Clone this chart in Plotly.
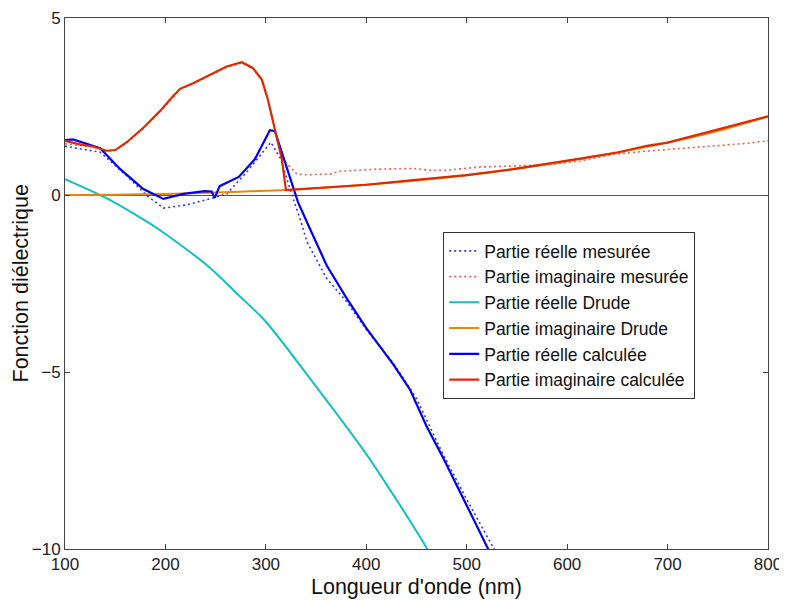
import plotly.graph_objects as go

# Partie réelle mesurée
x_re_mes = [100, 135, 162, 182, 198, 221, 244, 261, 281, 305, 315, 325, 335, 341, 360.6, 370.5, 380, 400, 427, 450, 476, 500, 526, 535]
y_re_mes = [1.38, 1.21, 0.53, -0.03, -0.37, -0.28, -0.11, 0.03, 0.65, 1.49, 1.01, 0.08, -0.76, -1.33, -2.36, -2.69, -3.0, -3.8, -4.75, -5.75, -7.3, -8.6, -9.9, -10.4]

# Partie imaginaire mesurée
x_im_mes = [100, 115, 128, 141.5, 150, 161.5, 178, 194.6, 204.6, 214.5, 227.5, 244.4, 261, 276, 287, 296, 302, 309, 316, 324, 331, 340, 351, 364, 374, 380.5, 410, 446.6, 463, 480, 513, 546, 580, 613, 646, 679, 712.5, 745.5, 779, 800]
y_im_mes = [1.45, 1.40, 1.35, 1.24, 1.26, 1.47, 1.88, 2.35, 2.68, 2.98, 3.14, 3.38, 3.61, 3.73, 3.57, 3.24, 2.7, 1.85, 1.05, 0.79, 0.59, 0.57, 0.57, 0.59, 0.68, 0.68, 0.73, 0.75, 0.70, 0.70, 0.79, 0.82, 0.85, 0.96, 1.15, 1.24, 1.31, 1.39, 1.46, 1.53]

# Partie réelle Drude
x_re_dru = [100, 135, 150, 184.7, 200, 244.5, 271, 300, 347, 400, 458.6, 470]
y_re_dru = [0.45, 0.0, -0.22, -0.81, -1.10, -2.06, -2.78, -3.58, -5.30, -7.32, -9.9, -10.5]

# Partie imaginaire Drude
x_im_dru = [100, 150, 200, 250, 300, 320, 350, 400, 450, 500, 550, 600, 650, 700, 750, 800]
y_im_dru = [0.0, 0.01, 0.03, 0.07, 0.12, 0.14, 0.19, 0.29, 0.41, 0.56, 0.74, 0.96, 1.20, 1.48, 1.81, 2.22]

# Partie réelle calculée
x_re_cal = [100, 108, 135, 155, 178, 198, 218, 239, 246, 249, 254, 273, 289, 304, 309, 322, 332, 344, 360.6, 380.5, 400, 427, 443.6, 460, 476.5, 500, 520, 530]
y_re_cal = [1.55, 1.57, 1.32, 0.73, 0.17, -0.11, 0.03, 0.11, 0.10, -0.08, 0.25, 0.51, 1.01, 1.83, 1.80, 0.65, -0.2, -0.96, -1.99, -2.92, -3.76, -4.79, -5.5, -6.53, -7.42, -8.77, -9.9, -10.5]

# Partie imaginaire calculée
x_im_cal = [100, 115, 128, 141.5, 150, 161.5, 178, 194.6, 204.6, 214.5, 227.5, 244.4, 261, 276, 287, 296, 302, 309, 316, 320, 350, 400, 446.6, 500, 546, 600, 613, 650, 679.4, 700, 745.5, 800]
y_im_cal = [1.53, 1.43, 1.37, 1.25, 1.27, 1.49, 1.90, 2.37, 2.70, 3.00, 3.16, 3.40, 3.63, 3.75, 3.59, 3.26, 2.70, 1.85, 1.00, 0.14, 0.19, 0.29, 0.42, 0.56, 0.73, 0.96, 1.03, 1.20, 1.39, 1.48, 1.81, 2.22]

FONT = "Liberation Sans, Arial"

fig = go.Figure()
fig.add_trace(go.Scatter(x=x_re_mes, y=y_re_mes, mode="lines", name="Partie réelle mesurée",
                         line=dict(color="#3535FF", width=1.6, dash="2px,3px")))
fig.add_trace(go.Scatter(x=x_im_mes, y=y_im_mes, mode="lines", name="Partie imaginaire mesurée",
                         line=dict(color="#EE6048", width=1.6, dash="2px,3px")))
fig.add_trace(go.Scatter(x=x_re_dru, y=y_re_dru, mode="lines", name="Partie réelle Drude",
                         line=dict(color="#14C0C0", width=2, shape="spline", smoothing=0.8)))
fig.add_trace(go.Scatter(x=x_im_dru, y=y_im_dru, mode="lines", name="Partie imaginaire Drude",
                         line=dict(color="#E8870E", width=2, shape="spline", smoothing=0.8)))
fig.add_trace(go.Scatter(x=x_re_cal, y=y_re_cal, mode="lines", name="Partie réelle calculée",
                         line=dict(color="#0000F0", width=2.2)))
fig.add_trace(go.Scatter(x=x_im_cal, y=y_im_cal, mode="lines", name="Partie imaginaire calculée",
                         line=dict(color="#DD2A00", width=2.2)))

axis_common = dict(showline=True, linecolor="#444", linewidth=1, mirror="ticks",
                   ticks="inside", ticklen=5, tickcolor="#444", showgrid=False,
                   automargin=False,
                   tickfont=dict(family=FONT, size=17, color="#222"))

fig.update_xaxes(range=[100, 800], tickvals=[100, 200, 300, 400, 500, 600, 700, 800],
                 zeroline=False, **axis_common)
fig.update_yaxes(range=[-10, 5], tickvals=[-10, -5, 0, 5],
                 zeroline=True, zerolinecolor="#555", zerolinewidth=1, **axis_common)

# page body has an 8px margin: size/shift the figure so the plot area matches
fig.update_layout(
    width=779, height=592,
    margin=dict(l=57, r=19, t=10, b=51),
    plot_bgcolor="white", paper_bgcolor="white",
    showlegend=True,
    legend=dict(x=0.538, y=0.597, xanchor="left", yanchor="top",
                bgcolor="white", bordercolor="#333", borderwidth=1,
                font=dict(family=FONT, size=17.5, color="#111"),
                itemwidth=30, tracegroupgap=0),
    annotations=[
        dict(text="Longueur d'onde (nm)", xref="paper", yref="paper", x=0.5, y=0,
             xanchor="center", yanchor="top", yshift=-24, showarrow=False,
             font=dict(family=FONT, size=21.5, color="#111")),
        dict(text="Fonction diélectrique", xref="paper", yref="paper", x=0, y=0.5,
             xanchor="center", yanchor="middle", xshift=-45, textangle=-90, showarrow=False,
             font=dict(family=FONT, size=21.5, color="#111")),
    ],
)

fig.write_html("out.html")
